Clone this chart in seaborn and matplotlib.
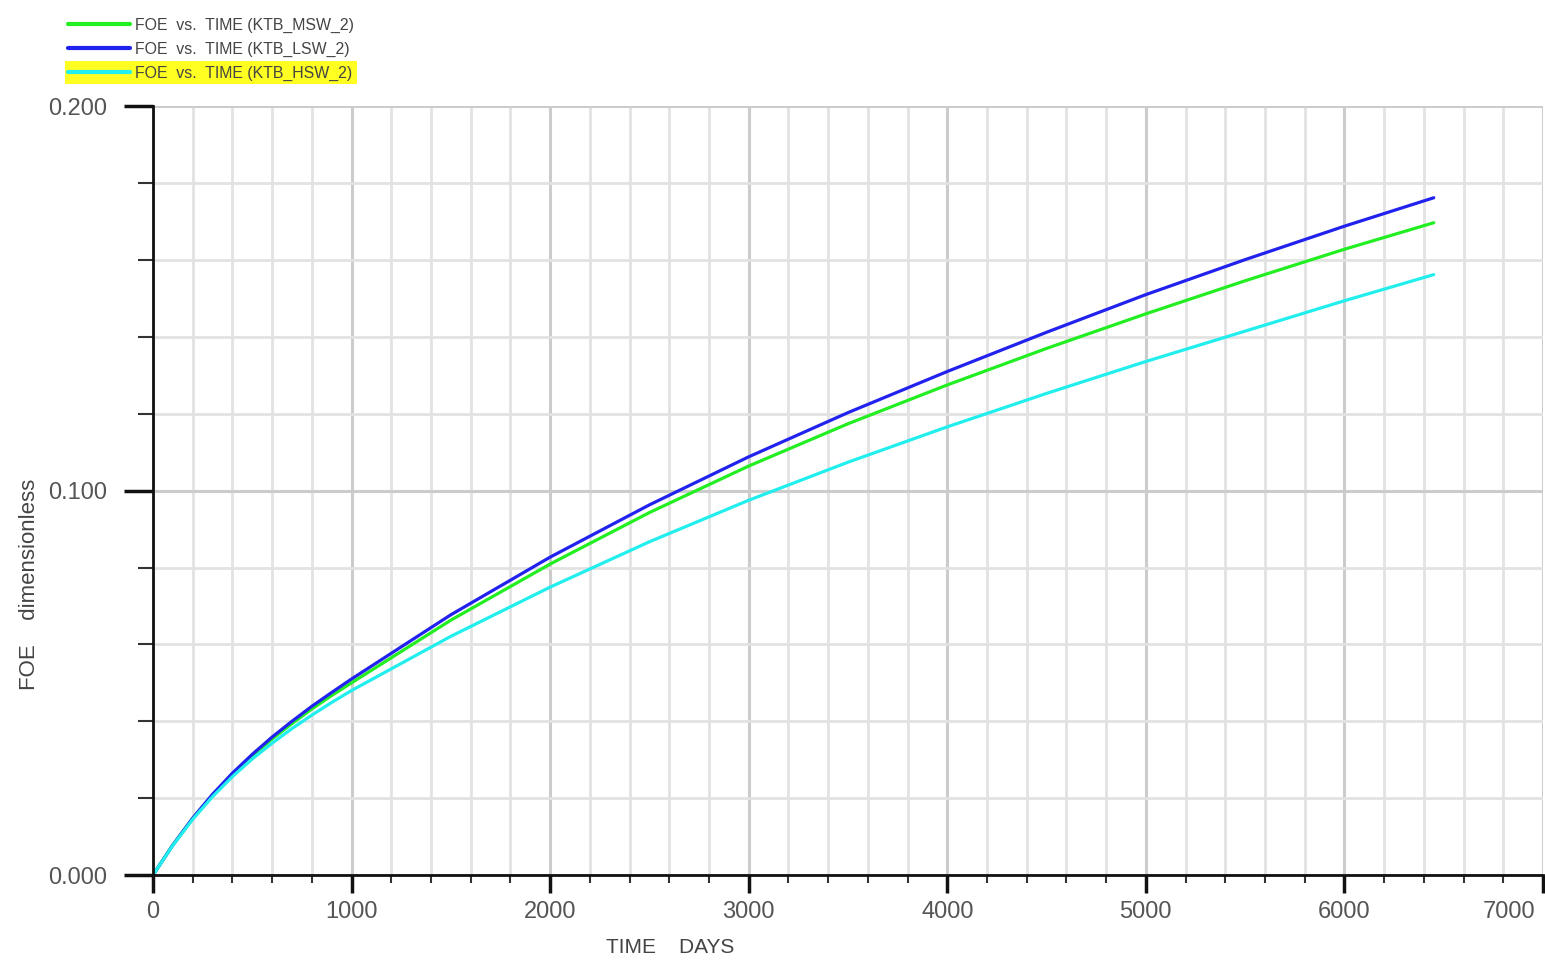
import pandas as pd
import numpy as np
import seaborn as sns
import matplotlib.pyplot as plt
import matplotlib.transforms as mtransforms
from matplotlib.ticker import MultipleLocator, FormatStrFormatter, FuncFormatter
from matplotlib.patches import Rectangle

# time axis (days) and FOE values
days = [0, 100, 200, 300, 400, 500, 600, 700, 800, 900, 1000, 1500, 2000, 2500,
        3000, 3500, 4000, 4500, 5000, 5500, 6000, 6450]
foe_msw = [0.0, 0.0078, 0.0147, 0.0208, 0.0262, 0.0310, 0.0354, 0.0394, 0.0432,
           0.0467, 0.0500, 0.0663, 0.0809, 0.0943, 0.1064, 0.1174, 0.1275, 0.1370,
           0.1460, 0.1546, 0.1628, 0.1697]
foe_lsw = [0.0, 0.0078, 0.0148, 0.0210, 0.0265, 0.0314, 0.0359, 0.0400, 0.0439,
           0.0475, 0.0510, 0.0677, 0.0827, 0.0963, 0.1088, 0.1203, 0.1310, 0.1412,
           0.1510, 0.1601, 0.1688, 0.1762]
foe_hsw = [0.0, 0.0077, 0.0145, 0.0204, 0.0256, 0.0302, 0.0343, 0.0381, 0.0416,
           0.0449, 0.0480, 0.0621, 0.0749, 0.0867, 0.0975, 0.1074, 0.1166, 0.1253,
           0.1336, 0.1415, 0.1494, 0.1562]
labels = ['FOE  vs.  TIME (KTB_MSW_2)',
          'FOE  vs.  TIME (KTB_LSW_2)',
          'FOE  vs.  TIME (KTB_HSW_2)']
colors = ['#22ee22', '#2222ee', '#22eeee']
x_max = 7000

df = pd.concat([
    pd.DataFrame({'time': days, 'foe': foe_msw, 'case': labels[0]}),
    pd.DataFrame({'time': days, 'foe': foe_lsw, 'case': labels[1]}),
    pd.DataFrame({'time': days, 'foe': foe_hsw, 'case': labels[2]}),
])

sns.set_style('white')
plt.rcParams['font.family'] = ['Liberation Sans', 'DejaVu Sans']

fig = plt.figure(figsize=(15.45, 9.74), dpi=100)
ax = fig.add_axes([0.099, 0.1016, 0.8997, 0.7893])

sns.lineplot(data=df, x='time', y='foe', hue='case', hue_order=labels,
             palette=colors, linewidth=2.3, ax=ax, legend=True)

ax.set_xlim(0, x_max)
ax.set_ylim(0, 0.2)
ax.xaxis.set_major_locator(MultipleLocator(1000))
ax.xaxis.set_minor_locator(MultipleLocator(200))
ax.yaxis.set_major_locator(MultipleLocator(0.1))
ax.yaxis.set_minor_locator(MultipleLocator(0.02))
ax.yaxis.set_major_formatter(FormatStrFormatter('%.3f'))
# last x label is drawn separately, right-aligned, so it stays inside the figure
ax.xaxis.set_major_formatter(FuncFormatter(lambda v, p: '' if v >= x_max else f'{v:.0f}'))

# grid: light minor lines, a bit darker on the majors
ax.grid(which='minor', color='#e2e2e2', linewidth=2)
ax.grid(which='major', color='#cccccc', linewidth=2.2)
ax.set_axisbelow(True)

for s in ['top', 'right']:
    ax.spines[s].set_visible(False)
for s in ['left', 'bottom']:
    ax.spines[s].set_color('#111111')
    ax.spines[s].set_linewidth(2)

ax.tick_params(axis='x', which='major', direction='out', length=13, width=2.5,
               color='#111111', labelsize=17, labelcolor='#555555', pad=6, bottom=True)
ax.tick_params(axis='x', which='minor', direction='out', length=6, width=1.5,
               color='#333333', bottom=True)
ax.tick_params(axis='y', which='major', direction='out', length=21, width=2.5,
               color='#111111', labelsize=17, labelcolor='#555555', pad=12, left=True)
ax.tick_params(axis='y', which='minor', direction='out', length=11, width=1.5,
               color='#333333', left=True)

trans = mtransforms.blended_transform_factory(ax.transData, ax.transAxes)
ax.text(x_max - 40, -0.034, f'{x_max}', transform=trans, ha='right', va='top',
        fontsize=17, color='#555555')

ax.set_xlabel('')
ax.set_ylabel('')
fig.text(0.434, 0.022, 'TIME    DAYS', fontsize=15, color='#444444', ha='center')
fig.text(0.012, 0.40, 'FOE    dimensionless', fontsize=16, color='#444444',
         rotation=90, va='center')

leg = ax.legend(loc='upper left', bbox_to_anchor=(0.040, 0.988),
                bbox_transform=fig.transFigure, frameon=False, fontsize=11.4,
                handlelength=3.9, handletextpad=0.3, labelspacing=0.55,
                borderaxespad=0)
for line in leg.get_lines():
    line.set_linewidth(3)
for t in leg.get_texts():
    t.set_color('#444444')

# yellow highlight behind the last legend entry
fig.patches.append(Rectangle((0.042, 0.914), 0.189, 0.0236, transform=fig.transFigure,
                             facecolor='#ffff22', edgecolor='none', zorder=-1))

fig.savefig('out.png', dpi=100, facecolor='white')
